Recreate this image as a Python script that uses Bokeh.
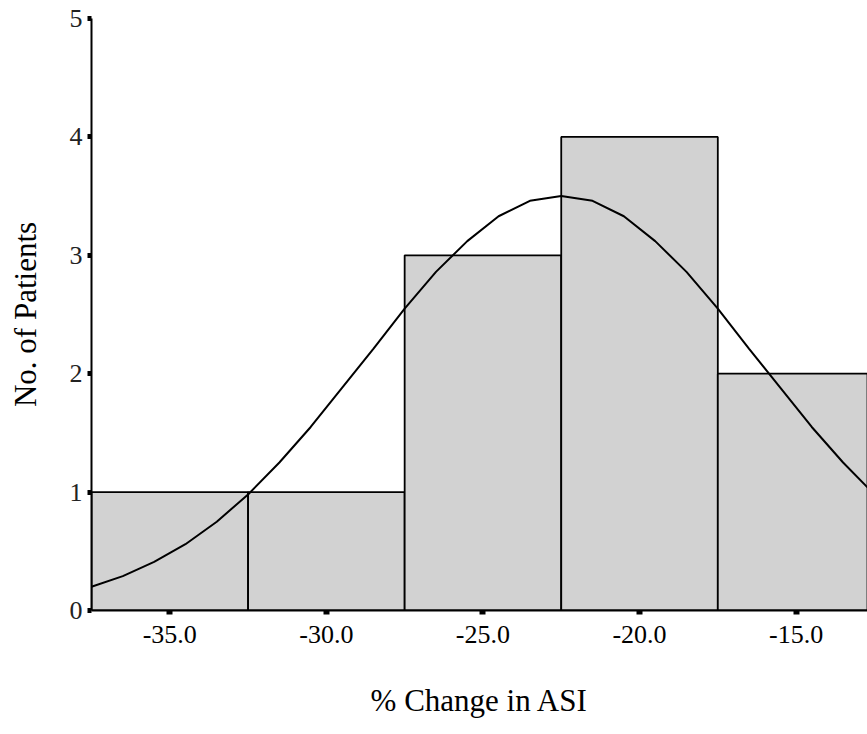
from bokeh.plotting import figure
from bokeh.embed import file_html
from bokeh.resources import INLINE
from bokeh.models import FixedTicker, Range1d

# Histogram bins (centres) and counts
bin_centers = [-35.0, -30.0, -25.0, -20.0, -15.0]
bin_width = 5.0
counts = [1, 1, 3, 4, 2]

# Normal curve
curve_x = [-37.5, -36.5, -35.5, -34.5, -33.5, -32.5, -31.5, -30.5, -29.5, -28.5,
           -27.5, -26.5, -25.5, -24.5, -23.5, -22.5, -21.5, -20.5, -19.5, -18.5,
           -17.5, -16.5, -15.5, -14.5, -13.5, -12.5]
curve_y = [0.20, 0.29, 0.41, 0.56, 0.75, 0.98, 1.25, 1.55, 1.88, 2.21,
           2.55, 2.86, 3.12, 3.33, 3.46, 3.50, 3.46, 3.33, 3.12, 2.86,
           2.55, 2.21, 1.88, 1.55, 1.25, 0.98]

x_ticks = [-35.0, -30.0, -25.0, -20.0, -15.0]
x_tick_labels = {-35.0: "-35.0", -30.0: "-30.0", -25.0: "-25.0", -20.0: "-20.0", -15.0: "-15.0"}
y_ticks = [0, 1, 2, 3, 4, 5]

FONT = "Liberation Serif"

p = figure(width=867, height=734, output_backend="svg", toolbar_location=None,
           x_range=Range1d(-37.5, -12.72), y_range=Range1d(0, 5),
           min_border_left=91, min_border_right=0, min_border_top=18, min_border_bottom=124)
p.outline_line_color = None
p.xgrid.visible = False
p.ygrid.visible = False
p.background_fill_color = "white"

p.vbar(x=bin_centers, top=counts, width=bin_width, bottom=0,
       fill_color="#d2d2d2", line_color="black", line_width=1.8)
p.line(curve_x, curve_y, line_color="black", line_width=2)

xa = p.xaxis[0]
xa.ticker = FixedTicker(ticks=x_ticks)
xa.major_label_overrides = x_tick_labels
xa.axis_line_width = 2
xa.major_tick_in = 0
xa.major_tick_out = 4
xa.major_tick_line_width = 6
xa.minor_tick_out = 0
xa.minor_tick_in = 0
xa.major_label_text_font = FONT
xa.major_label_text_font_size = "26px"
xa.major_label_text_color = "black"
xa.major_label_standoff = 11
xa.axis_label = "% Change in ASI"
xa.axis_label_text_font = FONT
xa.axis_label_text_font_size = "31px"
xa.axis_label_text_font_style = "normal"
xa.axis_label_text_color = "black"
xa.axis_label_standoff = 37

ya = p.yaxis[0]
ya.ticker = FixedTicker(ticks=y_ticks)
ya.axis_line_width = 2
ya.major_tick_in = 0
ya.major_tick_out = 4
ya.major_tick_line_width = 5
ya.minor_tick_out = 0
ya.minor_tick_in = 0
ya.major_label_text_font = FONT
ya.major_label_text_font_size = "26px"
ya.major_label_text_color = "#222222"
ya.major_label_standoff = 5
ya.axis_label = "No. of Patients"
ya.axis_label_text_font = FONT
ya.axis_label_text_font_size = "31px"
ya.axis_label_text_font_style = "normal"
ya.axis_label_text_color = "black"
ya.axis_label_standoff = 24

open("out.html", "w").write(file_html(p, INLINE))
